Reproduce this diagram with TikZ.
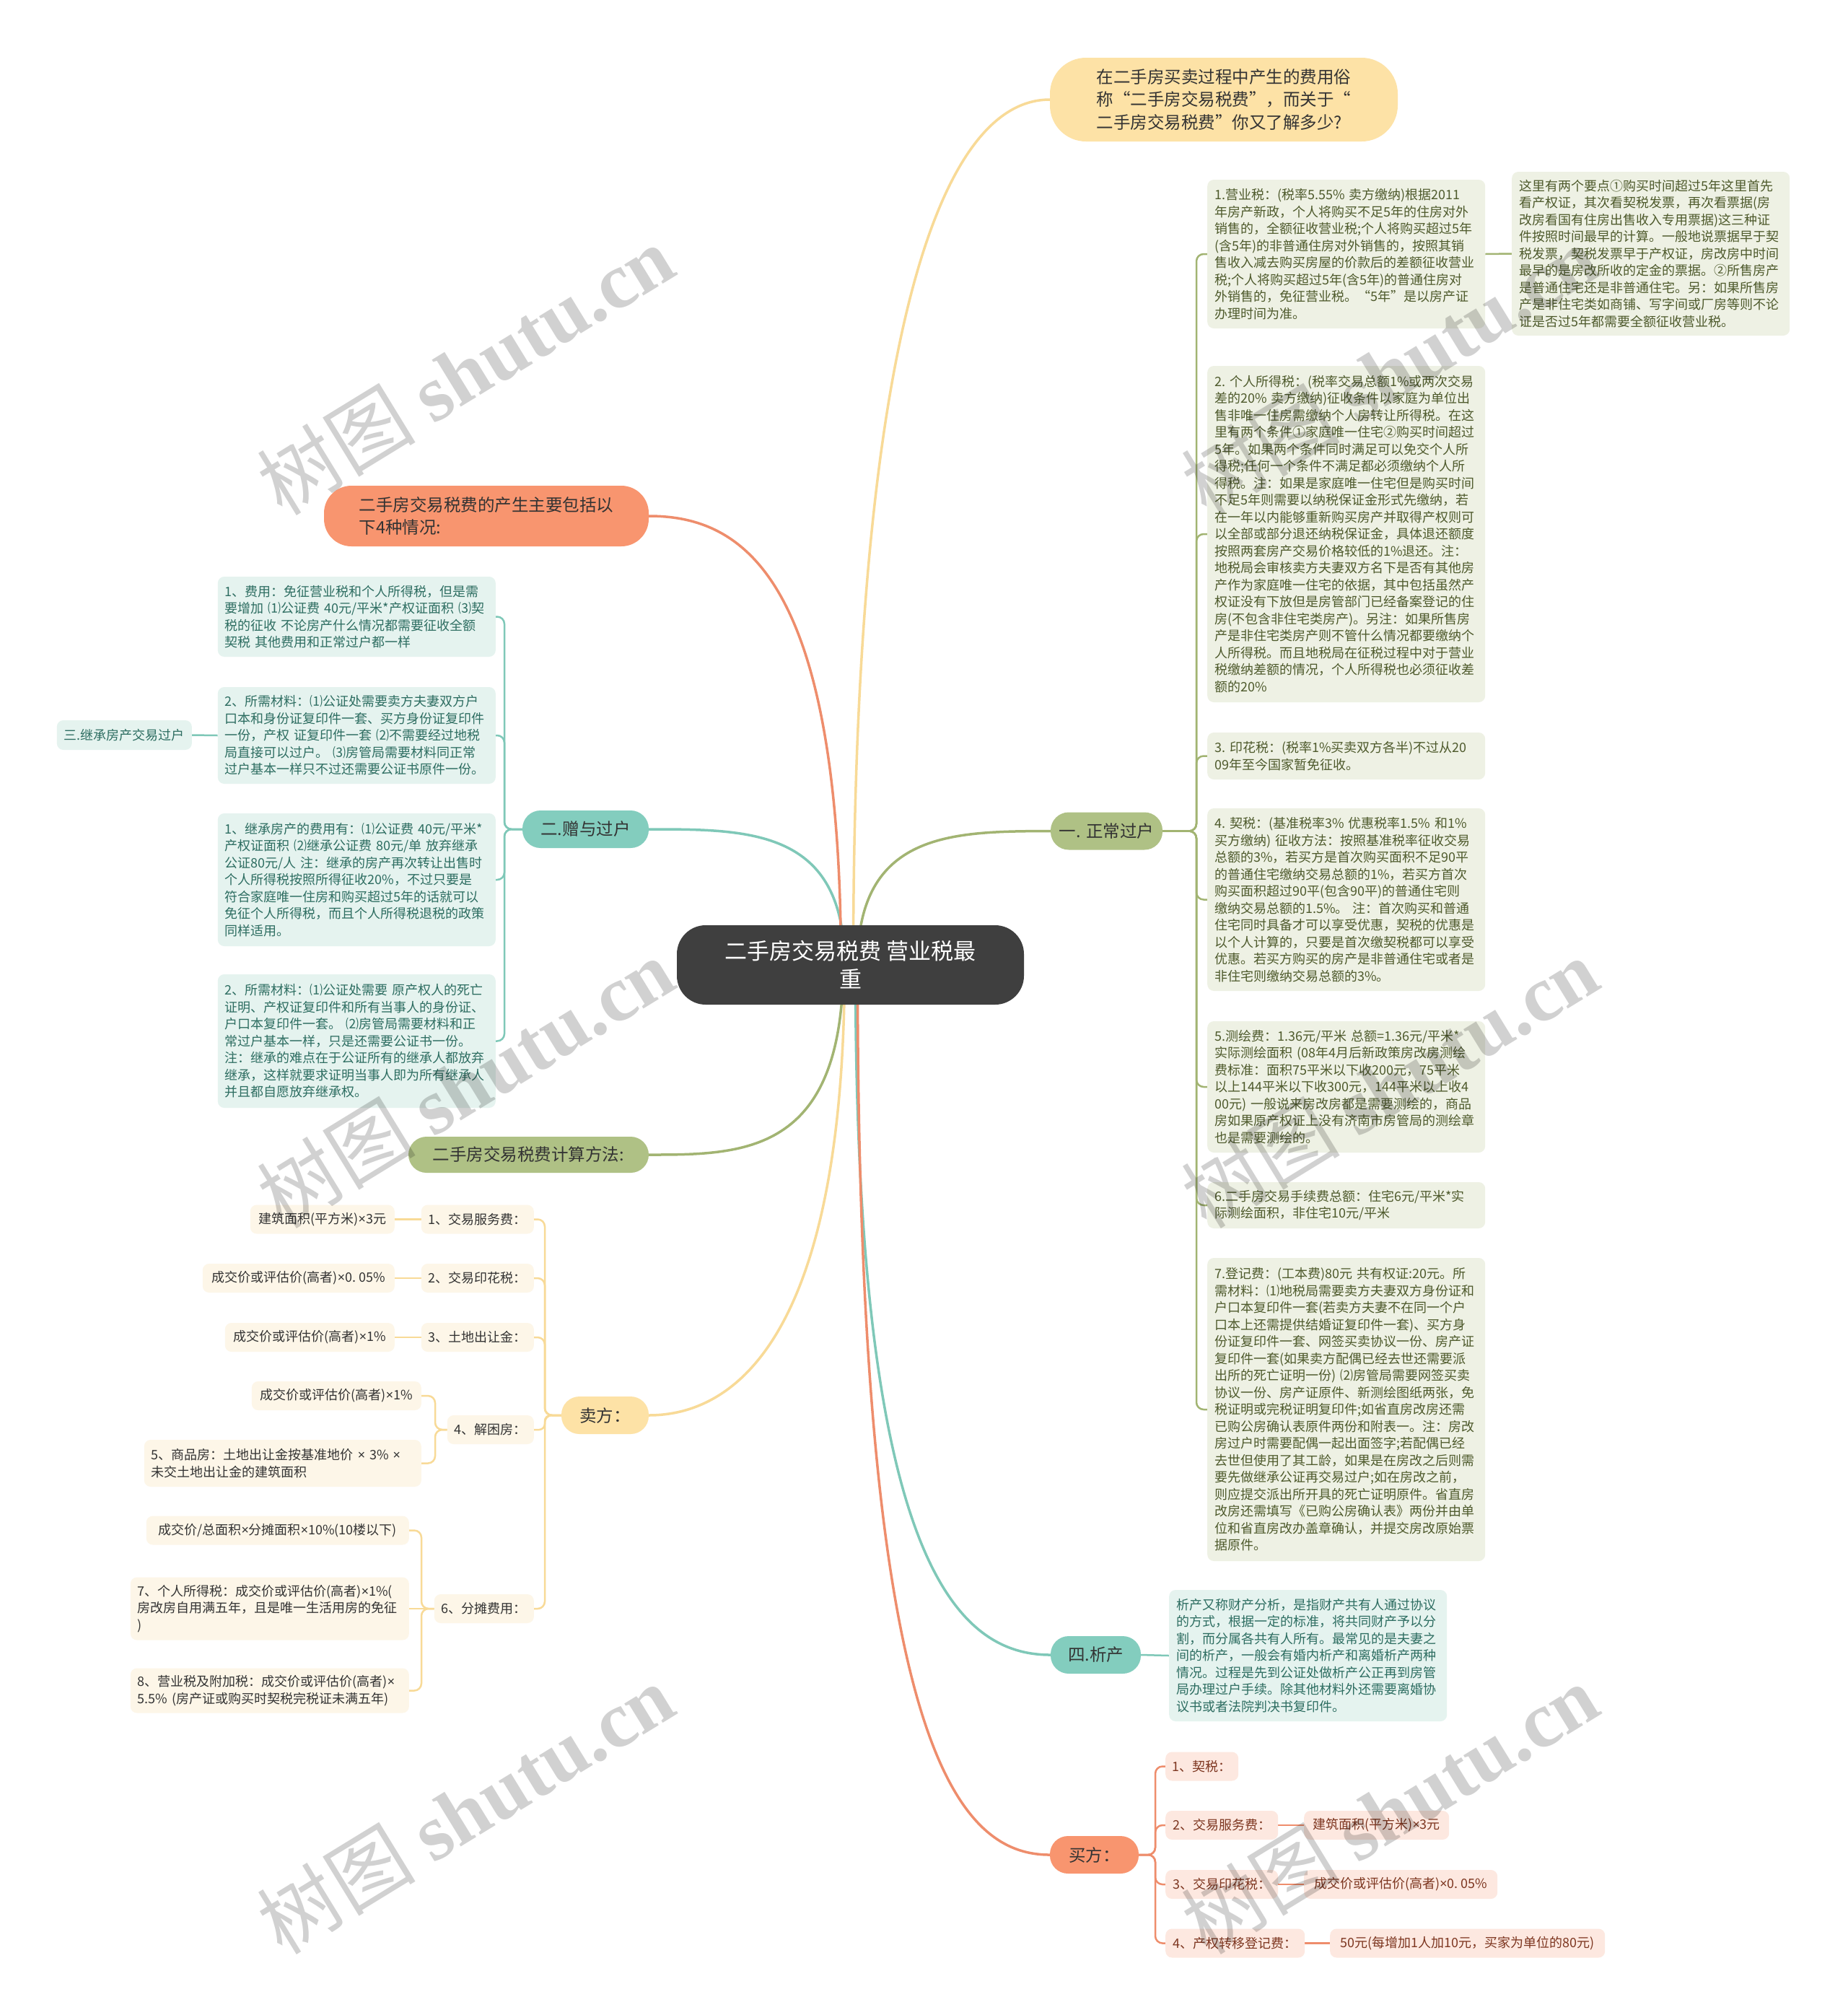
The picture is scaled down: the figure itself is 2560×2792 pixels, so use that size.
\documentclass[tikz,border=0pt]{standalone}
\usepackage{fontspec}
\setmainfont{Noto Sans CJK SC}
\newfontfamily\markfont{Liberation Serif}
\newfontfamily\latinfont{Noto Sans}
\newcommand{\timesign}{{\latinfont ×}}
\usetikzlibrary{backgrounds}

\definecolor{rootfill}{HTML}{3F3F3F}
\definecolor{inkdark}{HTML}{333333}
\definecolor{sunfill}{HTML}{FDE2A6}
\definecolor{sunline}{HTML}{F8DA97}
\definecolor{sunbox}{HTML}{FDF6E8}
\definecolor{coralfill}{HTML}{F8956F}
\definecolor{coralline}{HTML}{EE8D6C}
\definecolor{coralbox}{HTML}{FDE8E0}
\definecolor{coraltext}{HTML}{7D3620}
\definecolor{tealfill}{HTML}{83CDBE}
\definecolor{tealline}{HTML}{7FC8B8}
\definecolor{tealbox}{HTML}{E5F3EF}
\definecolor{tealtext}{HTML}{2D6D61}
\definecolor{olivefill}{HTML}{AFC185}
\definecolor{oliveline}{HTML}{A2B472}
\definecolor{olivebox}{HTML}{EEF1E4}
\definecolor{olivetext}{HTML}{4E5A2C}

\tikzset{
  topic/.style={rounded corners=25pt, font=\fontsize{23.5}{31.5}\selectfont,
    text=inkdark, inner sep=0pt, minimum height=52pt},
  infobox/.style={rounded corners=9pt, font=\fontsize{18}{23.5}\selectfont,
    align=left, inner xsep=10pt, inner ysep=4pt, text width=365pt},
  okbox/.style={infobox, fill=olivebox, text=olivetext, anchor=west},
  giftbox/.style={infobox, fill=tealbox, text=tealtext, anchor=east},
  sellbox/.style={infobox, fill=sunbox, text=inkdark, anchor=east},
  chip/.style={rounded corners=9pt, font=\fontsize{18}{23.5}\selectfont,
    inner xsep=8pt, inner ysep=0pt, minimum height=40pt},
  sellchip/.style={chip, fill=sunbox, text=inkdark, anchor=east},
  buychip/.style={chip, fill=coralbox, text=coraltext, anchor=west},
  mainline/.style={line width=3.5pt},
  twig/.style={line width=2.5pt, rounded corners=10pt},
  watermark/.style={rotate=31.5, text=black, text opacity=0.18,
    font=\fontsize{110}{110}\selectfont}
}

\begin{document}
\begin{tikzpicture}[x=1pt, y=-1pt]
  \useasboundingbox (0,0) rectangle (2560,2792);

  % centre and first level
  \node[fill=rootfill, text=white, rounded corners=40pt, minimum width=481pt,
    minimum height=110pt, align=center, font=\fontsize{31}{39}\selectfont]
    (root) at (1178.5,1337) {二手房交易税费 营业税最\\重};
  \node[topic, fill=sunfill, minimum width=482pt, minimum height=116pt,
    rounded corners=50pt, align=left] (top) at (1696,138)
    {在二手房买卖过程中产生的费用俗\\称“二手房交易税费”，而关于“\\二手房交易税费”你又了解多少?};
  \node[topic, fill=coralfill, minimum width=450pt, minimum height=84pt,
    rounded corners=38pt, align=left] (origin) at (674,715)
    {二手房交易税费的产生主要包括以\\下4种情况:};
  \node[topic, fill=tealfill, minimum width=175pt] (gift) at (811.5,1149) {二.赠与过户};
  \node[topic, fill=olivefill, minimum width=333pt, minimum height=50pt] (calc) at (732.5,1600) {二手房交易税费计算方法:};
  \node[topic, fill=sunfill, minimum width=121pt] (seller) at (838.5,1961) {卖方：};
  \node[topic, fill=olivefill, minimum width=155pt] (one) at (1533.5,1151.5) {一. 正常过户};
  \node[topic, fill=tealfill, minimum width=125pt] (split) at (1518.5,2293) {四.析产};
  \node[topic, fill=coralfill, minimum width=123pt] (buyer) at (1516.5,2570) {买方：};

  % normal transfer: seven taxes
  \node[okbox, minimum height=206pt] (tax1) at (1673,352) {1.营业税：(税率5.55\%~卖方缴纳)根据2011\\年房产新政，个人将购买不足5年的住房对外\\销售的，全额征收营业税;个人将购买超过5年\\(含5年)的非普通住房对外销售的，按照其销\\售收入减去购买房屋的价款后的差额征收营业\\税;个人将购买超过5年(含5年)的普通住房对\\外销售的，免征营业税。“5年”是以房产证\\办理时间为准。};
  \node[okbox, minimum height=227pt] (taxnote) at (2095,351.5) {这里有两个要点①购买时间超过5年这里首先\\看产权证，其次看契税发票，再次看票据(房\\改房看国有住房出售收入专用票据)这三种证\\件按照时间最早的计算。一般地说票据早于契\\税发票，契税发票早于产权证，房改房中时间\\最早的是房改所收的定金的票据。②所售房产\\是普通住宅还是非普通住宅。另：如果所售房\\产是非住宅类如商铺、写字间或厂房等则不论\\证是否过5年都需要全额征收营业税。};
  \node[okbox, minimum height=466pt] (tax2) at (1673,740) {2.~个人所得税：(税率交易总额1\%或两次交易\\差的20\%~卖方缴纳)征收条件以家庭为单位出\\售非唯一住房需缴纳个人房转让所得税。在这\\里有两个条件①家庭唯一住宅②购买时间超过\\5年。如果两个条件同时满足可以免交个人所\\得税;任何一个条件不满足都必须缴纳个人所\\得税。注：如果是家庭唯一住宅但是购买时间\\不足5年则需要以纳税保证金形式先缴纳，若\\在一年以内能够重新购买房产并取得产权则可\\以全部或部分退还纳税保证金，具体退还额度\\按照两套房产交易价格较低的1\%退还。注：\\地税局会审核卖方夫妻双方名下是否有其他房\\产作为家庭唯一住宅的依据，其中包括虽然产\\权证没有下放但是房管部门已经备案登记的住\\房(不包含非住宅类房产)。另注：如果所售房\\产是非住宅类房产则不管什么情况都要缴纳个\\人所得税。而且地税局在征税过程中对于营业\\税缴纳差额的情况，个人所得税也必须征收差\\额的20\%};
  \node[okbox, minimum height=65pt] (tax3) at (1673,1047.5) {3.~印花税：(税率1\%买卖双方各半)不过从20\\09年至今国家暂免征收。};
  \node[okbox, minimum height=253pt] (tax4) at (1673,1246.5) {4.~契税：(基准税率3\%~优惠税率1.5\%~和1\%\\买方缴纳)~征收方法：按照基准税率征收交易\\总额的3\%，若买方是首次购买面积不足90平\\的普通住宅缴纳交易总额的1\%，若买方首次\\购买面积超过90平(包含90平)的普通住宅则\\缴纳交易总额的1.5\%。~注：首次购买和普通\\住宅同时具备才可以享受优惠，契税的优惠是\\以个人计算的，只要是首次缴契税都可以享受\\优惠。若买方购买的房产是非普通住宅或者是\\非住宅则缴纳交易总额的3\%。};
  \node[okbox, minimum height=182pt] (tax5) at (1673,1506) {5.测绘费：1.36元/平米~总额=1.36元/平米*\\实际测绘面积~(08年4月后新政策房改房测绘\\费标准：面积75平米以下收200元，75平米\\以上144平米以下收300元，144平米以上收4\\00元)~一般说来房改房都是需要测绘的，商品\\房如果原产权证上没有济南市房管局的测绘章\\也是需要测绘的。};
  \node[okbox, minimum height=64pt] (tax6) at (1673,1670) {6.二手房交易手续费总额：住宅6元/平米*实\\际测绘面积，非住宅10元/平米};
  \node[okbox, minimum height=420pt] (tax7) at (1673,1953) {7.登记费：(工本费)80元~共有权证:20元。所\\需材料：⑴地税局需要卖方夫妻双方身份证和\\户口本复印件一套(若卖方夫妻不在同一个户\\口本上还需提供结婚证复印件一套)、买方身\\份证复印件一套、网签买卖协议一份、房产证\\复印件一套(如果卖方配偶已经去世还需要派\\出所的死亡证明一份)~⑵房管局需要网签买卖\\协议一份、房产证原件、新测绘图纸两张，免\\税证明或完税证明复印件;如省直房改房还需\\已购公房确认表原件两份和附表一。注：房改\\房过户时需要配偶一起出面签字;若配偶已经\\去世但使用了其工龄，如果是在房改之后则需\\要先做继承公证再交易过户;如在房改之前，\\则应提交派出所开具的死亡证明原件。省直房\\改房还需填写《已购公房确认表》两份并由单\\位和省直房改办盖章确认，并提交房改原始票\\据原件。};

  % gift and inheritance
  \node[giftbox, minimum height=111pt] (gift1) at (687,854.5) {1、费用：免征营业税和个人所得税，但是需\\要增加~⑴公证费~40元/平米*产权证面积~⑶契\\税的征收~不论房产什么情况都需要征收全额\\契税~其他费用和正常过户都一样};
  \node[giftbox, minimum height=134pt] (gift2) at (687,1019) {2、所需材料：⑴公证处需要卖方夫妻双方户\\口本和身份证复印件一套、买方身份证复印件\\一份，产权~证复印件一套~⑵不需要经过地税\\局直接可以过户。~⑶房管局需要材料同正常\\过户基本一样只不过还需要公证书原件一份。};
  \node[giftbox, minimum height=184pt] (inherit1) at (687,1219) {1、继承房产的费用有：⑴公证费~40元/平米*\\产权证面积~⑵继承公证费~80元/单~放弃继承\\公证80元/人~注：继承的房产再次转让出售时\\个人所得税按照所得征收20\%，不过只要是\\符合家庭唯一住房和购买超过5年的话就可以\\免征个人所得税，而且个人所得税退税的政策\\同样适用。};
  \node[giftbox, minimum height=185pt] (inherit2) at (687,1442.5) {2、所需材料：⑴公证处需要~原产权人的死亡\\证明、产权证复印件和所有当事人的身份证、\\户口本复印件一套。~⑵房管局需要材料和正\\常过户基本一样，只是还需要公证书一份。\\注：继承的难点在于公证所有的继承人都放弃\\继承，这样就要求证明当事人即为所有继承人\\并且都自愿放弃继承权。};
  \node[chip, fill=tealbox, text=tealtext, anchor=east, minimum width=187pt,
    minimum height=41pt] (heir) at (266,1018.5) {三.继承房产交易过户};

  % partition
  \node[infobox, fill=tealbox, text=tealtext, anchor=west, minimum height=182pt]
    (splitinfo) at (1620,2294) {析产又称财产分析，是指财产共有人通过协议\\的方式，根据一定的标准，将共同财产予以分\\割，而分属各共有人所有。最常见的是夫妻之\\间的析产，一般会有婚内析产和离婚析产两种\\情况。过程是先到公证处做析产公正再到房管\\局办理过户手续。除其他材料外还需要离婚协\\议书或者法院判决书复印件。};

  % seller
  \node[sellchip, minimum width=156pt] (sell1) at (740,1689.5) {1、交易服务费：};
  \node[sellchip, minimum width=200pt] (sell1v) at (547,1689.5) {建筑面积(平方米)\timesign{}3元};
  \node[sellchip, minimum width=156pt] (sell2) at (740,1771) {2、交易印花税：};
  \node[sellchip, minimum width=266pt] (sell2v) at (547,1771) {成交价或评估价(高者)\timesign{}0.~05\%};
  \node[sellchip, minimum width=156pt] (sell3) at (740,1853) {3、土地出让金：};
  \node[sellchip, minimum width=235pt] (sell3v) at (547,1853) {成交价或评估价(高者)\timesign{}1\%};
  \node[sellchip, minimum width=120pt] (sell4) at (740,1981) {4、解困房：};
  \node[sellchip, minimum width=235pt] (sell4a) at (584,1934) {成交价或评估价(高者)\timesign{}1\%};
  \node[sellbox, text width=364pt, minimum height=65pt] (sell4b) at (584,2027.5) {5、商品房：土地出让金按基准地价~\timesign{}~3\%~\timesign{}\\未交土地出让金的建筑面积};
  \node[sellchip, minimum width=138pt] (sell6) at (740,2229) {6、分摊费用：};
  \node[sellchip, minimum width=364pt] (sell6a) at (567,2120.5) {成交价/总面积\timesign{}分摊面积\timesign{}10\%(10楼以下)};
  \node[sellbox, text width=366pt, minimum height=87pt] (sell6b) at (567,2229) {7、个人所得税：成交价或评估价(高者)\timesign{}1\%(\\房改房自用满五年，且是唯一生活用房的免征\\)};
  \node[sellbox, text width=366pt, minimum height=62pt] (sell6c) at (567,2342.5) {8、营业税及附加税：成交价或评估价(高者)\timesign{}\\5.5\%~(房产证或购买时契税完税证未满五年)};

  % buyer
  \node[buychip, minimum width=101pt] (buy1) at (1615,2447.5) {1、契税：};
  \node[buychip, minimum width=156pt] (buy2) at (1615,2529) {2、交易服务费：};
  \node[buychip, minimum width=201pt] (buy2v) at (1807,2529) {建筑面积(平方米)\timesign{}3元};
  \node[buychip, minimum width=156pt] (buy3) at (1615,2611) {3、交易印花税：};
  \node[buychip, minimum width=268pt] (buy3v) at (1807,2611) {成交价或评估价(高者)\timesign{}0.~05\%};
  \node[buychip, minimum width=193pt] (buy4) at (1615,2692.5) {4、产权转移登记费：};
  \node[buychip, minimum width=381pt] (buy4v) at (1843,2692.5) {50元(每增加1人加10元，买家为单位的80元)};

  \begin{scope}[on background layer]
    \fill[white] (0,0) rectangle (2560,2792);
    % branches out of the centre
    \draw[mainline, sunline] ([xshift=4pt]root.center) .. controls (1182,520) and (1290,138) .. (top.west);
    \draw[mainline, oliveline] ([xshift=10pt]root.center) .. controls (1188,1152) and (1320,1152) .. (one.west);
    \draw[mainline, tealline] ([xshift=-8pt]root.center) .. controls (1170,1149) and (1040,1149) .. (gift.east);
    \draw[mainline, coralline] ([xshift=-13pt]root.center) .. controls (1165,800) and (1030,715) .. (origin.east);
    \draw[mainline, oliveline] ([xshift=-10pt]root.center) .. controls (1168,1600) and (1030,1600) .. (calc.east);
    \draw[mainline, sunline] ([xshift=-8pt]root.center) .. controls (1170,1850) and (1020,1961) .. (seller.east);
    \draw[mainline, tealline] ([xshift=7pt]root.center) .. controls (1185,2150) and (1320,2293) .. (split.west);
    \draw[mainline, coralline] ([xshift=10pt]root.center) .. controls (1188,2400) and (1320,2570) .. (buyer.west);
    % second level
    \foreach \kid in {tax1,tax2,tax3,tax4,tax5,tax6,tax7}
      \draw[twig, oliveline] (one.east) -| ([xshift=-15pt]\kid.west) -- (\kid.west);
    \draw[twig, oliveline] (tax1.east) -- (taxnote.west);
    \foreach \kid in {gift1,gift2,inherit1,inherit2}
      \draw[twig, tealline] (gift.west) -| ([xshift=12pt]\kid.east) -- (\kid.east);
    \draw[twig, tealline] (gift2.west) -- (heir.east);
    \draw[twig, tealline] (split.east) -- (splitinfo.west);
    \foreach \kid in {sell1,sell2,sell3,sell6}
      \draw[twig, sunline] (seller.west) -| ([xshift=15pt]\kid.east) -- (\kid.east);
    \draw[twig, sunline, rounded corners=8pt] (seller.west) -| ([xshift=15pt]sell4.east) -- (sell4.east);
    \foreach \kid/\val in {sell1/sell1v, sell2/sell2v, sell3/sell3v}
      \draw[twig, sunline] (\kid.west) -- (\val.east);
    \foreach \kid in {sell4a,sell4b}
      \draw[twig, sunline] (sell4.west) -| ([xshift=19pt]\kid.east) -- (\kid.east);
    \foreach \kid in {sell6a,sell6c}
      \draw[twig, sunline] (sell6.west) -| ([xshift=17pt]\kid.east) -- (\kid.east);
    \draw[twig, sunline] (sell6.west) -- (sell6b.east);
    \foreach \kid in {buy1,buy2,buy3,buy4}
      \draw[twig, coralline] (buyer.east) -| ([xshift=-14pt]\kid.west) -- (\kid.west);
    \foreach \kid/\val in {buy2/buy2v, buy3/buy3v, buy4/buy4v}
      \draw[twig, coralline] (\kid.east) -- (\val.west);
  \end{scope}

  % watermarks
  \foreach \i/\wx/\wy in {1/645/512, 2/1926/512, 3/645/1500, 4/1926/1500, 5/645/2506, 6/1926/2506}
    \node[watermark] (wm\i) at (\wx,\wy) {树图 {\markfont\bfseries shutu.cn}};
\end{tikzpicture}
\end{document}
